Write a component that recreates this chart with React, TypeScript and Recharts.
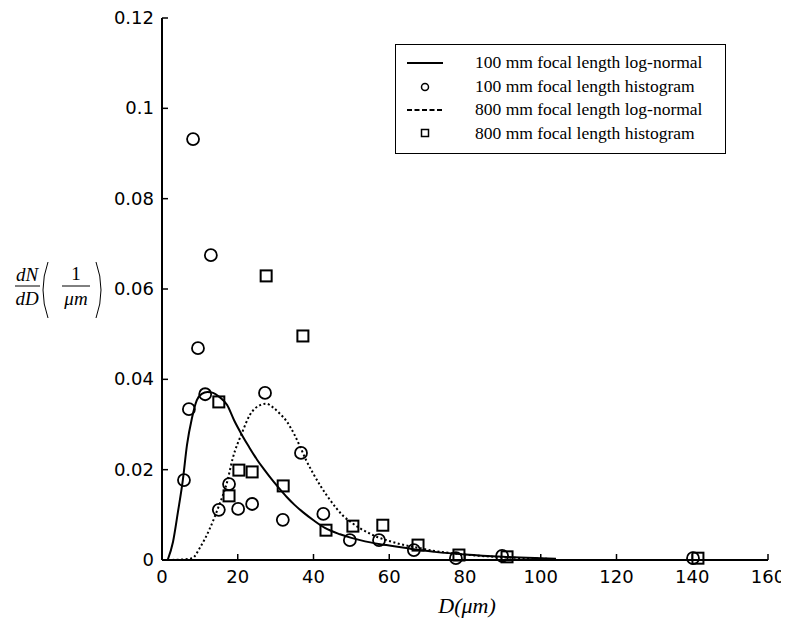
import { ComposedChart, Line, Scatter, XAxis, YAxis } from 'recharts'

// 100 mm histogram (circles)
const hist100D = [5.8, 7.1, 8.2, 9.5, 11.4, 12.9, 15.0, 17.7, 20.1, 23.8, 27.2, 31.9, 36.7, 42.6, 49.6, 57.3, 66.5, 77.6, 89.8, 140.2]
const hist100N = [0.0177, 0.0334, 0.0932, 0.0469, 0.0367, 0.0675, 0.0111, 0.0168, 0.0113, 0.0124, 0.037, 0.0089, 0.0237, 0.0102, 0.0044, 0.0044, 0.0022, 0.0004, 0.0009, 0.0004]

// 800 mm histogram (squares)
const hist800D = [15.0, 17.7, 20.3, 23.8, 27.5, 32.0, 37.2, 43.3, 50.4, 58.3, 67.6, 78.4, 91.1, 141.5]
const hist800N = [0.035, 0.0142, 0.0199, 0.0195, 0.0629, 0.0164, 0.0496, 0.0066, 0.0075, 0.0077, 0.0033, 0.0011, 0.0007, 0.0004]

// log-normal curves
const fit100D = [1.5, 2.9, 4.2, 5.5, 6.6, 7.9, 9.2, 10.5, 12, 13.5, 15, 17.2, 19, 21.1, 23, 25.1, 27, 29.3, 31, 33, 35, 37.2, 40, 43, 47, 50, 52.3, 55, 57.6, 60, 64, 67, 72, 80, 90, 100, 104]
const fit100N = [0, 0.004, 0.0106, 0.0177, 0.0255, 0.0314, 0.0354, 0.0368, 0.0372, 0.037, 0.0362, 0.0343, 0.031, 0.0277, 0.025, 0.0222, 0.02, 0.0175, 0.0158, 0.0139, 0.0122, 0.0106, 0.0088, 0.0071, 0.0057, 0.0049, 0.0044, 0.0039, 0.0035, 0.0032, 0.0027, 0.0023, 0.0018, 0.0012, 0.0007, 0.0004, 0.0003]

const fit800D = [1.5, 5, 8, 10, 12.7, 14.8, 17.2, 18.7, 21.1, 23.2, 25.9, 27.5, 29.3, 31, 33, 35, 36.4, 38, 39.9, 42, 43.6, 46, 47.8, 50, 52.3, 55, 56.8, 60, 64, 67, 72, 80, 90, 100, 104]
const fit800N = [0, 0.0001, 0.0004, 0.0027, 0.0071, 0.0115, 0.0173, 0.0226, 0.0281, 0.0321, 0.0343, 0.0346, 0.0338, 0.0325, 0.0306, 0.0277, 0.0252, 0.0222, 0.0192, 0.0162, 0.0142, 0.0115, 0.0098, 0.0083, 0.007, 0.0058, 0.0051, 0.0042, 0.0033, 0.0028, 0.002, 0.0012, 0.0006, 0.0003, 0.0002]

const xTicks = [0, 20, 40, 60, 80, 100, 120, 140, 160]
const yTicks = [0, 0.02, 0.04, 0.06, 0.08, 0.1, 0.12]

const legendLabels = [
  '100 mm focal length log-normal',
  '100 mm focal length histogram',
  '800 mm focal length log-normal',
  '800 mm focal length histogram',
]

const zip = (xs: number[], ys: number[]) => xs.map((x, i) => ({ x, y: ys[i] }))

const tickFont = '"DejaVu Sans", sans-serif'
const serif = '"Liberation Serif", "Times New Roman", serif'

const YTick = (props: any) => {
  const { x, y, payload } = props
  return (
    <g>
      <line x1={x} x2={x + 6} y1={y} y2={y} stroke="#000" strokeWidth={1.5} />
      <text x={x - 8} y={y + 6} textAnchor="end" fontSize={18} fontFamily={tickFont} fill="#000">{payload.value}</text>
    </g>
  )
}

const XTick = (props: any) => {
  const { x, y, payload } = props
  return (
    <g>
      <line x1={x} x2={x} y1={y} y2={y - 6} stroke="#000" strokeWidth={1.5} />
      <text x={x} y={y + 23} textAnchor="middle" fontSize={18} fontFamily={tickFont} fill="#000">{payload.value}</text>
    </g>
  )
}

const circleShape = (p: any) => <circle cx={p.cx} cy={p.cy} r={6} fill="none" stroke="#000" strokeWidth={1.8} />
const squareShape = (p: any) => <rect x={p.cx - 5.5} y={p.cy - 5.5} width={11} height={11} fill="none" stroke="#000" strokeWidth={2} />

export default function App() {
  const W = 781
  const H = 617
  return (
    <div style={{ position: 'relative', width: W, height: H }}>
      <ComposedChart width={W} height={H} margin={{ top: 10, right: 21, left: 94, bottom: 35 }}>
        <XAxis
          type="number"
          dataKey="x"
          domain={[0, 160]}
          ticks={xTicks}
          allowDataOverflow
          height={30}
          tickSize={0}
          tickMargin={0}
          tickLine={false}
          tick={<XTick />}
          axisLine={{ stroke: '#000', strokeWidth: 2 }}
        />
        <YAxis
          type="number"
          domain={[0, 0.12]}
          ticks={yTicks}
          width={60}
          tickSize={0}
          tickMargin={0}
          tickLine={false}
          tick={<YTick />}
          axisLine={{ stroke: '#000', strokeWidth: 2 }}
        />
        <Line data={zip(fit100D, fit100N)} dataKey="y" type="monotone" stroke="#000" strokeWidth={2} dot={false} isAnimationActive={false} />
        <Line data={zip(fit800D, fit800N)} dataKey="y" type="monotone" stroke="#000" strokeWidth={2} strokeDasharray="2 2.5" dot={false} isAnimationActive={false} />
        <Scatter data={zip(hist100D, hist100N)} dataKey="y" shape={circleShape} isAnimationActive={false} />
        <Scatter data={zip(hist800D, hist800N)} dataKey="y" shape={squareShape} isAnimationActive={false} />
      </ComposedChart>
      <svg width={W} height={H} style={{ position: 'absolute', left: 0, top: 0, pointerEvents: 'none' }}>
        {/* y axis label: dN/dD (1/um) */}
        <g fontFamily={serif} fontStyle="italic" fontSize={19} fill="#000">
          <text x={19} y={273} textAnchor="middle">dN</text>
          <line x1={7} x2={32} y1={278} y2={278} stroke="#000" strokeWidth={1} />
          <text x={19} y={297} textAnchor="middle">dD</text>
          <path d="M 40 254 Q 30 282 40 310" fill="none" stroke="#000" strokeWidth={1} />
          <text x={68} y={272} textAnchor="middle" fontStyle="normal">1</text>
          <line x1={54} x2={82} y1={278} y2={278} stroke="#000" strokeWidth={1} />
          <text x={68} y={297} textAnchor="middle">μm</text>
          <path d="M 88 254 Q 98 282 88 310" fill="none" stroke="#000" strokeWidth={1} />
        </g>
        <text x={459} y={605} textAnchor="middle" fontFamily={serif} fontStyle="italic" fontSize={22} fill="#000">D(μm)</text>
        {/* legend */}
        <rect x={387.5} y={36.5} width={330} height={109} fill="#fff" stroke="#000" strokeWidth={1} />
        <line x1={399} x2={435} y1={55} y2={55} stroke="#000" strokeWidth={2} />
        <circle cx={417} cy={79} r={3.5} fill="none" stroke="#000" strokeWidth={1.5} />
        <line x1={399} x2={435} y1={102} y2={102} stroke="#000" strokeWidth={2} strokeDasharray="5 2.5" />
        <rect x={413.5} y={121.5} width={7} height={7} fill="none" stroke="#000" strokeWidth={1.5} />
        {legendLabels.map((t, i) => (
          <text key={t} x={467} y={60 + i * 23.5} fontFamily={serif} fontSize={17.5} fill="#000">{t}</text>
        ))}
      </svg>
    </div>
  )
}
